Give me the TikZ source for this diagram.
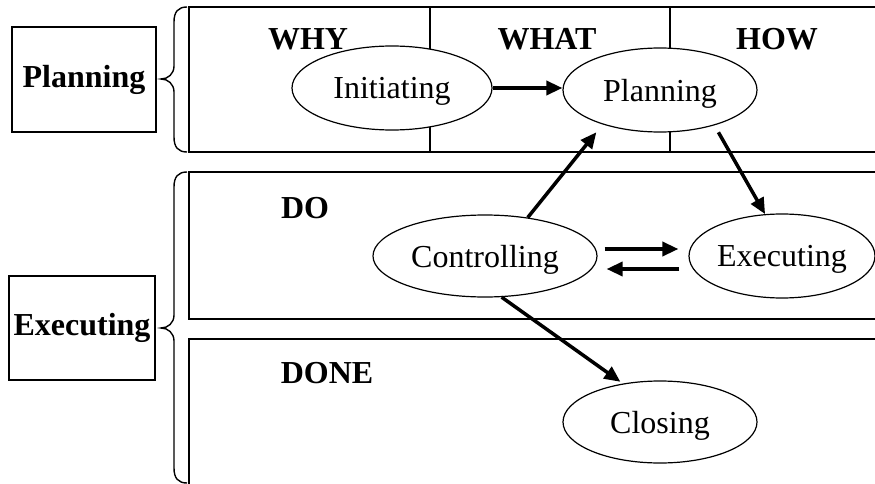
\documentclass[tikz,border=0pt]{standalone}
\usepackage{fontspec}
\setmainfont{Liberation Serif}
\usetikzlibrary{arrows.meta,shapes.geometric}
\begin{document}
\begin{tikzpicture}[x=1pt,y=-1pt,
  every node/.style={font=\fontsize{32}{38}\selectfont},
  frame/.style={line width=1.6pt},
  phase/.style={draw,fill=white,ellipse,line width=1.2pt,inner sep=0pt,text depth=0pt},
  lbl/.style={font=\fontsize{32}{38}\selectfont\bfseries},
  side/.style={draw,line width=1.3pt,inner sep=0pt,font=\fontsize{32}{38}\selectfont\bfseries},
  flow/.style={line width=3.5pt,-{Triangle[length=16pt,width=14pt]}},
  brace/.style={line width=1.4pt}]
\useasboundingbox (0,0) rectangle (875,484);
\clip (0,0) rectangle (875,484);
% frames
\draw[frame] (880,7) -- (189,7) -- (189,152) -- (880,152);
\draw[frame] (430,7) -- (430,152);
\draw[frame] (670,7) -- (670,152);
\draw[frame] (880,172) -- (189,172) -- (189,319) -- (880,319);
\draw[frame] (880,339) -- (189,339) -- (189,495);
% braces
\draw[brace] (187,7) .. controls (178,7) and (174,12) .. (174,22) -- (174,66)
  .. controls (174,74) and (168,79) .. (161,79)
  .. controls (168,79) and (174,84) .. (174,92) -- (174,137)
  .. controls (174,147) and (178,152) .. (187,152);
\draw[brace] (187,172) .. controls (178,172) and (174,177) .. (174,187) -- (174,315)
  .. controls (174,323) and (168,328) .. (161,328)
  .. controls (168,328) and (174,333) .. (174,341) -- (174,468)
  .. controls (174,478) and (178,483) .. (187,483);
% side boxes
\node[side,minimum width=144pt,minimum height=105pt] (splan) at (84,79.5) {Planning};
\node[side,minimum width=146pt,minimum height=104pt] (sexec) at (82,328) {Executing};
% labels
\node[lbl] (why) at (308,39) {WHY};
\node[lbl] (what) at (547,39) {WHAT};
\node[lbl] (how) at (777,39) {HOW};
\node[lbl] (do) at (305,208) {DO};
\node[lbl] (done) at (327,373) {DONE};
% phases
\node[phase,minimum width=200pt,minimum height=84pt] (init) at (392,88) {Initiating};
\node[phase,minimum width=194pt,minimum height=84pt] (plan) at (660,90) {Planning};
\node[phase,minimum width=224pt,minimum height=82pt] (ctrl) at (485,256) {Controlling};
\node[phase,minimum width=186pt,minimum height=84pt] (exe) at (782,256) {Executing};
\node[phase,minimum width=194pt,minimum height=82pt] (close) at (660,422) {Closing};
% arrows
\draw[flow] (init.east) -- (init.east -| plan.west);
\draw[flow,shorten >=10pt] (ctrl.42) -- (plan.211);
\draw[flow,shorten <=8pt] (plan.327) -- (exe.112);
\draw[flow,shorten >=3pt] (ctrl.292) -- (close.134);
\draw[flow,shorten <=7pt,shorten >=10pt] ([yshift=7pt]ctrl.east) -- ([yshift=7pt]exe.west);
\draw[flow,shorten <=9pt,shorten >=9pt] ([yshift=-13pt]exe.west) -- ([yshift=-13pt]ctrl.east);
\end{tikzpicture}
\end{document}
